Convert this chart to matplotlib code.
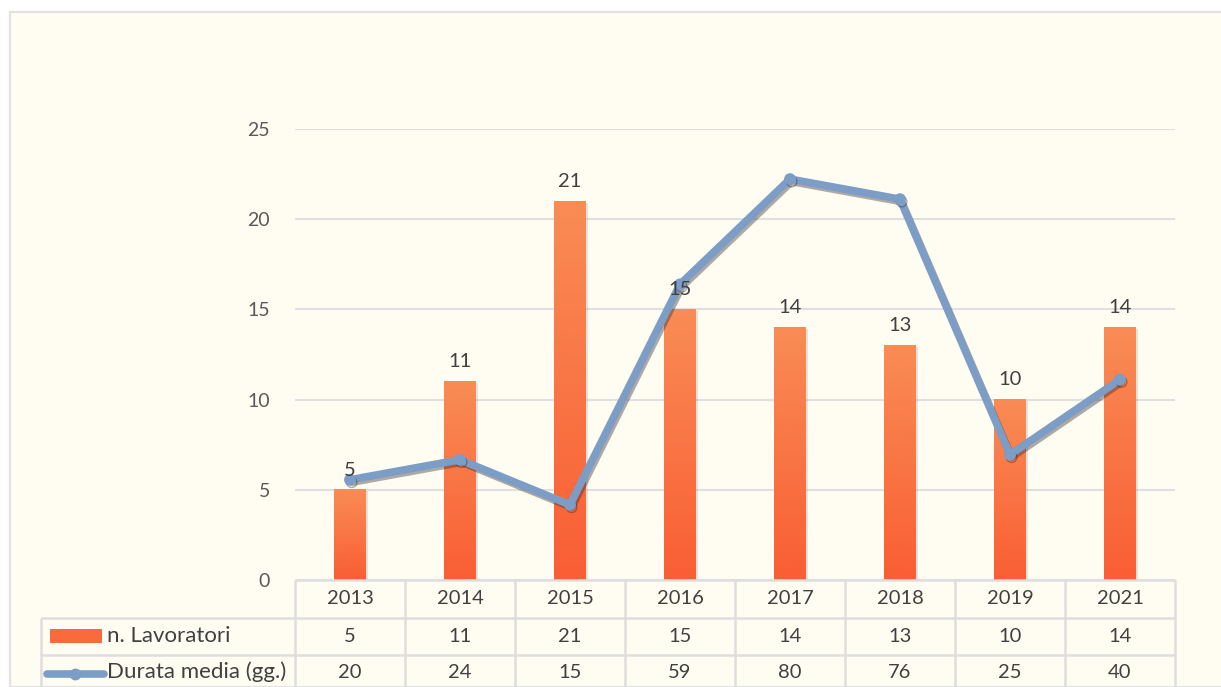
import matplotlib
matplotlib.use("Agg")
import matplotlib.pyplot as plt
import matplotlib.patheffects as pe
from matplotlib.lines import Line2D
from matplotlib.patches import Rectangle
from matplotlib.colors import LinearSegmentedColormap
import numpy as np

# data
anni = ["2013", "2014", "2015", "2016", "2017", "2018", "2019", "2021"]
lavoratori = [5, 11, 21, 15, 14, 13, 10, 14]
durata_media = [20, 24, 15, 59, 80, 76, 25, 40]
serie = ["n. Lavoratori", "Durata media (gg.)"]

W, H = 1221, 687
BG = "#FFFDF2"
GRID = "#E0E0E0"
TXT = "#404040"
ORANGE_TOP = "#F98C55"
ORANGE_BOT = "#F95E34"
BLUE = "#7B9DC6"
FS = 14.5

plt.rcParams["font.family"] = ["Lato", "DejaVu Sans"]

fig = plt.figure(figsize=(W / 100, H / 100), dpi=100, facecolor="white")


def fx(px):
    return px / W


def fy(py):
    return 1 - py / H


def hline(x0, x1, y, **kw):
    fig.add_artist(Line2D([fx(x0), fx(x1)], [fy(y), fy(y)], transform=fig.transFigure, **kw))


def vline(x, y0, y1, **kw):
    fig.add_artist(Line2D([fx(x), fx(x)], [fy(y0), fy(y1)], transform=fig.transFigure, **kw))


# chart area background with light border
fig.add_artist(Rectangle((fx(10), 0), 1.0, fy(12), transform=fig.transFigure,
                         facecolor=BG, edgecolor="#E2E2E2", lw=1.6, zorder=0))

left, right, top, bottom = 295, 1175, 129, 580
ax = fig.add_axes([fx(left), fy(bottom), fx(right - left), fy(top) - fy(bottom)])
ax.set_facecolor("none")
x = np.arange(len(anni))
bw = 0.29

# bars with a soft shadow, then a vertical gradient painted over each one
bars = ax.bar(x, lavoratori, width=bw, color=ORANGE_BOT, zorder=2,
              path_effects=[pe.SimplePatchShadow(offset=(1.5, -1), alpha=0.15, shadow_rgbFace="#555555"),
                            pe.Normal()])
cmap = LinearSegmentedColormap.from_list("arancio", [ORANGE_BOT, ORANGE_TOP])
grad = np.linspace(0, 1, 256).reshape(-1, 1)
for b in bars:
    ax.imshow(grad, cmap=cmap, aspect="auto", origin="lower", zorder=3,
              extent=[b.get_x(), b.get_x() + b.get_width(), 0, b.get_height()])

ax.set_xlim(-0.5, len(anni) - 0.5)
ax.set_ylim(0, 25)
ax.set_yticks(range(0, 26, 5))
ax.yaxis.grid(True, color=GRID, lw=1.5, zorder=0)
ax.set_axisbelow(True)
ax.set_xticks([])
ax.tick_params(axis="y", length=0, pad=18, labelsize=14, labelcolor="#595959")
for s in ax.spines.values():
    s.set_visible(False)

# line on a hidden secondary axis
ax2 = ax.twinx()
ax2.set_ylim(0, 90)
ax2.axis("off")
ax2.plot(x, durata_media, color=BLUE, lw=5.5, marker="o", ms=7.5, zorder=4,
         solid_capstyle="round",
         path_effects=[pe.SimpleLineShadow(offset=(1.2, -1.8), alpha=0.4, shadow_color="#3a2a2a"),
                       pe.Normal()])

for xi, v in zip(x, lavoratori):
    ax2.annotate(str(v), (xi, v * 90 / 25), xytext=(0, 8), textcoords="offset points",
                 ha="center", va="bottom", fontsize=FS, color=TXT, zorder=6)

# data table below the plot
tl = dict(color="#DEDEDE", lw=1.8, solid_capstyle="butt")
col_w = (right - left) / len(anni)
hline(left, right, 580, **tl)
hline(41, right, 618, **tl)
hline(41, right, 655, **tl)
vline(41, 618, H + 5, **tl)
for i in range(len(anni) + 1):
    vline(left + i * col_w, 580, H + 5, **tl)

centers_y = [599, 636, 672]
for i, anno in enumerate(anni):
    cx = fx(left + (i + 0.5) * col_w)
    fig.text(cx, fy(centers_y[0]), anno, ha="center", va="center", fontsize=FS, color=TXT)
    fig.text(cx, fy(centers_y[1]), str(lavoratori[i]), ha="center", va="center", fontsize=FS, color=TXT)
    fig.text(cx, fy(centers_y[2]), str(durata_media[i]), ha="center", va="center", fontsize=FS, color=TXT)

# legend keys inside the table
fig.add_artist(Rectangle((fx(50), fy(643)), fx(52), fy(629) - fy(643), transform=fig.transFigure,
                         facecolor="#F96B3C", edgecolor="none"))
fig.add_artist(Line2D([fx(47), fx(104)], [fy(674), fy(674)], transform=fig.transFigure,
                      color=BLUE, lw=5.5, solid_capstyle="round"))
fig.add_artist(Line2D([fx(75)], [fy(674)], transform=fig.transFigure, color=BLUE,
                      marker="o", ms=7.5))
fig.text(fx(107), fy(centers_y[1]), serie[0], ha="left", va="center", fontsize=16, color=TXT)
fig.text(fx(107), fy(centers_y[2]), serie[1], ha="left", va="center", fontsize=16, color=TXT)

fig.savefig("out.png", dpi=100, facecolor="white")
